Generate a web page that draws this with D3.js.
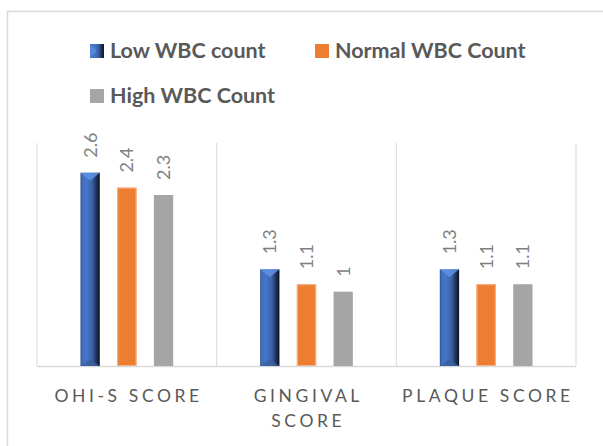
<!DOCTYPE html>
<html><head><meta charset="utf-8">
<script src="https://cdn.jsdelivr.net/npm/d3@7"></script>
<style>html,body{margin:0;padding:0;background:#fff;}svg{display:block;}</style>
</head><body>
<svg id="chart" width="603" height="446"></svg>
<script>
const categories = ["OHI-S SCORE", "GINGIVAL SCORE", "PLAQUE SCORE"];
const categoryLines = [["OHI-S SCORE"], ["GINGIVAL", "SCORE"], ["PLAQUE SCORE"]];
const seriesNames = ["Low WBC count", "Normal WBC Count", "High WBC Count"];
const lowWBC = [2.6, 1.3, 1.3];
const normalWBC = [2.4, 1.1, 1.1];
const highWBC = [2.3, 1.0, 1.1];
const valueLabels = [["2.6","1.3","1.3"],["2.4","1.1","1.1"],["2.3","1","1.1"]];
const seriesValues = [lowWBC, normalWBC, highWBC];
const yDomain = [0, 3];

const svg = d3.select("#chart");
const defs = svg.append("defs");
const grad = defs.append("linearGradient").attr("id","bevelBlue").attr("x1","0").attr("x2","1").attr("y1","0").attr("y2","0");
[[0,"#2a4c88"],[0.08,"#3f6dbd"],[0.3,"#4676c8"],[0.6,"#3a62a8"],[0.85,"#1b2d50"],[1,"#0a1224"]]
  .forEach(([o,c])=>grad.append("stop").attr("offset",o).attr("stop-color",c));

// chart frame
svg.append("rect").attr("x",7.5).attr("y",11.5).attr("width",620).attr("height",460)
  .attr("fill","none").attr("stroke","#d9d9d9").attr("stroke-width",1.5);

const plot = {left:37, right:576, top:143, bottom:366};
const x0 = d3.scaleBand().domain(categories).range([plot.left, plot.right]).paddingInner(0).paddingOuter(0);
const x1 = d3.scaleBand().domain(seriesNames).range([0, x0.bandwidth()]).paddingInner(0.474).paddingOuter(1.185);
const y = d3.scaleLinear().domain(yDomain).range([plot.bottom, plot.top]);
const colors = ["url(#bevelBlue)", "#ED7D31", "#A5A5A5"];

// separators
const seps = categories.map(c=>x0(c)).concat([plot.right]);
svg.append("g").selectAll("line").data(seps).join("line")
  .attr("x1",d=>d).attr("x2",d=>d).attr("y1",plot.top).attr("y2",plot.bottom)
  .attr("stroke","#d9d9d9").attr("stroke-width",1);
svg.append("line").attr("x1",plot.left).attr("x2",plot.right).attr("y1",plot.bottom+0.5).attr("y2",plot.bottom+0.5)
  .attr("stroke","#d9d9d9").attr("stroke-width",1.5);

// bars
seriesValues.forEach((vals, si)=>{
  const g = svg.append("g");
  vals.forEach((v, ci)=>{
    const bx = x0(categories[ci]) + x1(seriesNames[si]);
    const bw = x1.bandwidth();
    const top = y(v), h = y(0) - y(v);
    g.append("rect").attr("x",bx).attr("y",top).attr("width",bw).attr("height",h)
      .attr("fill",colors[si]);
    if (si===0){
      g.append("path").attr("d",`M${bx},${top}L${bx+bw},${top}L${bx+bw/2},${top+8}Z`).attr("fill","#5f93e6").attr("opacity",0.85);
      g.append("path").attr("d",`M${bx},${top+h}L${bx+bw},${top+h}L${bx+bw/2},${top+h-7}Z`).attr("fill","#3b5f9e").attr("opacity",0.8);
    } else if (si===1){
      g.append("rect").attr("x",bx+0.5).attr("y",top+0.5).attr("width",bw-1).attr("height",h-1)
        .attr("fill","none").attr("stroke","#f6b48a").attr("stroke-width",1);
    }
    const lx = bx + bw/2, ly = top - 15;
    g.append("text").attr("transform",`translate(${lx+6.5},${ly}) rotate(-90)`)
      .attr("text-anchor","start").attr("font-family","Lato, 'Open Sans', sans-serif")
      .attr("font-size",18).attr("fill","#7f7f7f").text(valueLabels[si][ci]);
  });
});

// category labels
categories.forEach((c, ci)=>{
  const cx = x0(c) + x0.bandwidth()/2;
  categoryLines[ci].forEach((line, li)=>{
    svg.append("text").attr("x",cx+1.8).attr("y",402 + li*25)
      .attr("text-anchor","middle").attr("font-family","Lato, 'Open Sans', sans-serif")
      .attr("font-size",17.5).attr("letter-spacing","3.6px").attr("fill","#595959").text(line);
  });
});

// legend
const legendPos = [[90,58],[315,58],[90,103]];
const legendFill = ["url(#bevelBlue)", "#ED7D31", "#A5A5A5"];
seriesNames.forEach((n, i)=>{
  const [lx, ly] = legendPos[i];
  const g = svg.append("g");
  g.append("rect").attr("x",lx).attr("y",ly-14).attr("width",14).attr("height",14).attr("fill",legendFill[i]);
  if (i===0) g.append("path").attr("d",`M${lx},${ly-14}L${lx+7},${ly-7}L${lx},${ly}Z`).attr("fill","#5f93e6").attr("opacity",0.7);
  g.append("text").attr("x",lx+20).attr("y",ly).attr("font-family","Lato, 'Open Sans', sans-serif")
    .attr("font-weight",700).attr("font-size",21.5).attr("fill","#595959").text(n);
});
</script>
</body></html>
